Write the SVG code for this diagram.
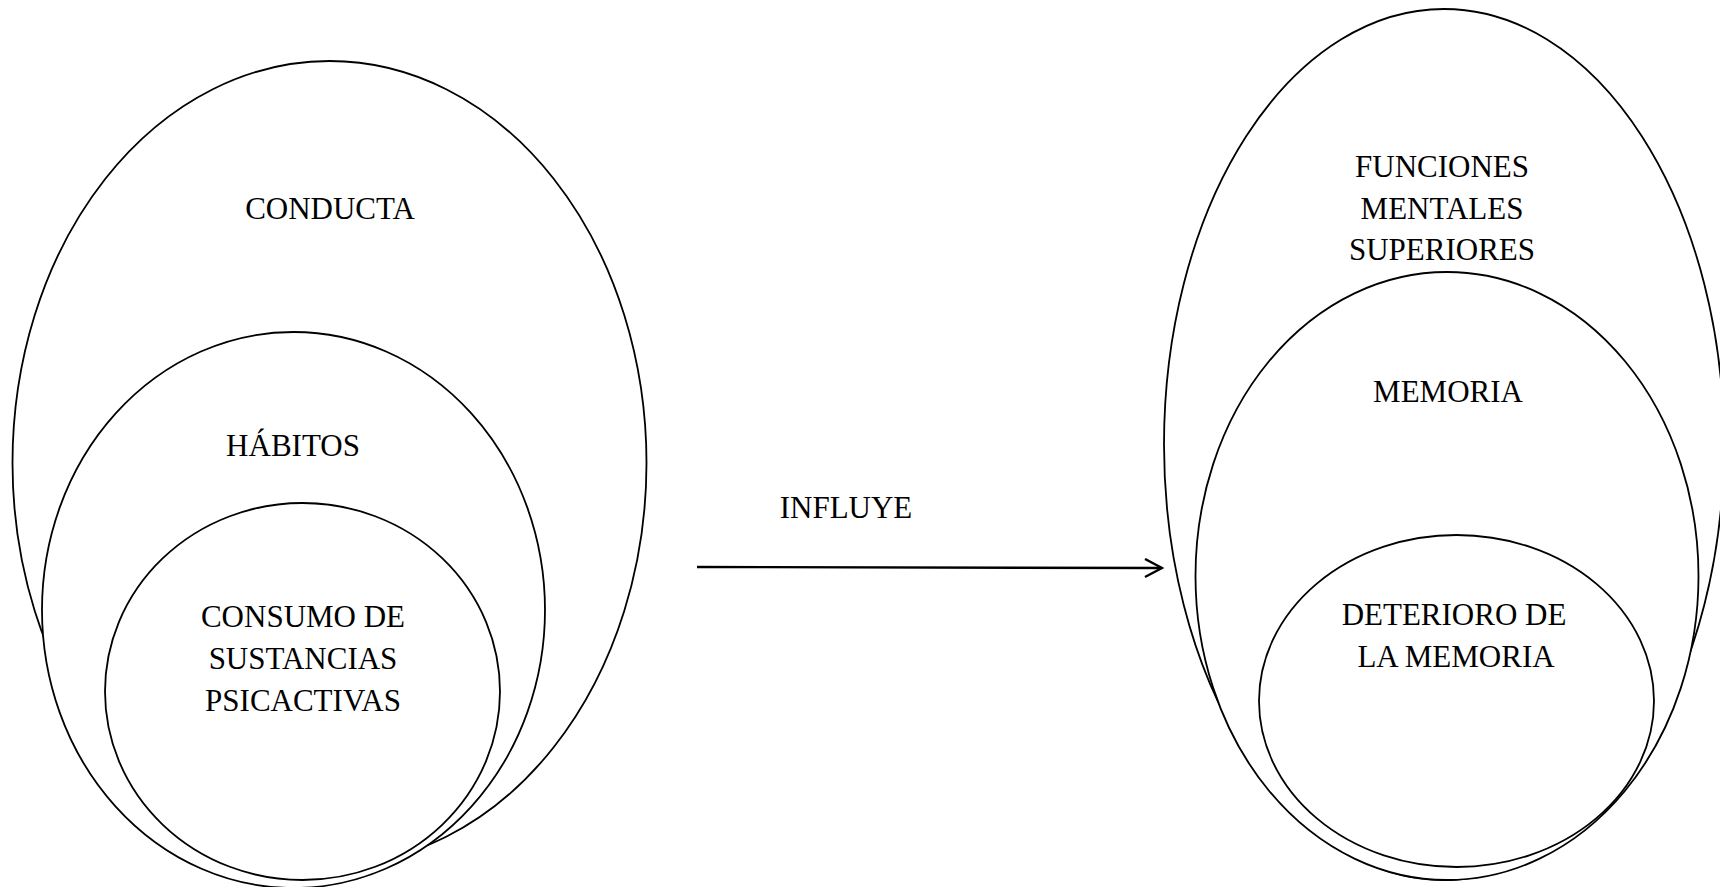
<svg xmlns="http://www.w3.org/2000/svg" width="1720" height="887" viewBox="0 0 1720 887">
<style>
.sh{fill:#fff;stroke:#000;stroke-width:1.8}
.t{font-family:"Liberation Serif","Times New Roman",serif;font-size:31px;fill:#000;text-anchor:middle}
.c{fill:none;stroke:#000;stroke-width:2.4}
</style>
<defs>
<marker id="ah" markerWidth="20" markerHeight="22" refX="18" refY="10" orient="auto" markerUnits="userSpaceOnUse">
<path d="M1,1 L18,10 L1,19" fill="none" stroke="#000" stroke-width="2.4"/>
</marker>
</defs>
<rect width="1720" height="887" fill="#fff"/>
<g id="conducta">
<ellipse class="sh" cx="329.5" cy="463" rx="317" ry="402"/>
<text class="t" x="330" y="219">CONDUCTA</text>
</g>
<g id="habitos">
<ellipse class="sh" cx="293.5" cy="610" rx="251.5" ry="278"/>
<text class="t" x="293" y="456">HÁBITOS</text>
</g>
<g id="consumo">
<ellipse class="sh" cx="302.5" cy="691.5" rx="197.5" ry="188.5"/>
<text class="t" x="303" y="627">CONSUMO DE</text>
<text class="t" x="303" y="669">SUSTANCIAS</text>
<text class="t" x="303" y="711">PSICACTIVAS</text>
</g>
<g id="funciones">
<ellipse class="sh" cx="1444" cy="444.5" rx="280" ry="435.5"/>
<text class="t" x="1442" y="177">FUNCIONES</text>
<text class="t" x="1442" y="219">MENTALES</text>
<text class="t" x="1442" y="260">SUPERIORES</text>
</g>
<g id="memoria">
<ellipse class="sh" cx="1447" cy="576" rx="251.5" ry="304"/>
<text class="t" x="1448" y="402">MEMORIA</text>
</g>
<g id="deterioro">
<ellipse class="sh" cx="1456.5" cy="701" rx="197.5" ry="166"/>
<text class="t" x="1454" y="625">DETERIORO DE</text>
<text class="t" x="1456" y="667">LA MEMORIA</text>
</g>
<g id="connectors">
<line class="c" x1="697" y1="567" x2="1162" y2="568" marker-end="url(#ah)"/>
<text class="t" x="846" y="518">INFLUYE</text>
</g>
</svg>
